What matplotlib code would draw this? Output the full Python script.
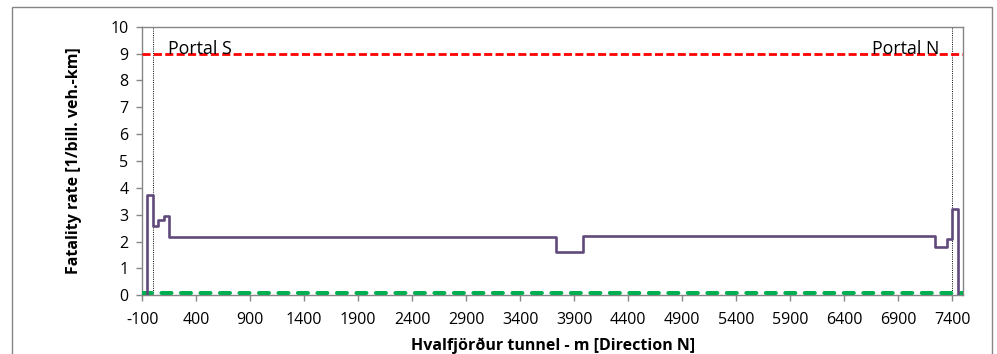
import matplotlib
matplotlib.use("Agg")
import matplotlib.pyplot as plt
from matplotlib.patches import Rectangle

plt.rcParams['font.family'] = ['Open Sans', 'DejaVu Sans']
plt.rcParams['axes.unicode_minus'] = False

# Fatality rate profile along the tunnel (step values, start of each segment)
chainage = [-57, -57, 0, 50, 100, 150, 3730, 3980, 7240, 7350, 7400, 7455]
fatality_rate = [0, 3.73, 2.57, 2.82, 2.97, 2.18, 1.62, 2.22, 1.81, 2.10, 3.20, 0]

# Reference levels
limit_x = [-100, 7500]
limit_upper = [9, 9]
limit_lower = [0.08, 0.08]

# Portals
portal_s = 0
portal_n = 7400

xticks = list(range(-100, 7401, 500))
yticks = list(range(0, 11))

fig = plt.figure(figsize=(9.97, 3.54), dpi=100)
ax = fig.add_axes([0.1427, 0.1658, 0.966 - 0.1427, 0.9246 - 0.1658])

grey = '#868686'

ax.plot(limit_x, limit_upper, color='#FF0000', lw=2.0, dashes=(2.9, 1.2), zorder=3)
ax.plot(limit_x, limit_lower, color='#00B050', lw=2.9, dashes=(2.48, 2.36),
        dash_capstyle='round', solid_capstyle='round', zorder=3)
ax.plot(chainage, fatality_rate, drawstyle='steps-post', color='#604A7B', lw=1.9, zorder=4)

ax.axvline(portal_s, color='black', lw=0.7, ls=(0, (1, 1.3)), zorder=2)
ax.axvline(portal_n, color='black', lw=0.7, ls=(0, (1, 1.3)), zorder=2)

ax.text(138, 9.0, 'Portal S', fontsize=12.8, ha='left', va='baseline')
ax.text(7276, 9.0, 'Portal N', fontsize=12.8, ha='right', va='baseline')

ax.set_xlim(-100, 7500)
ax.set_ylim(0, 10)
ax.set_xticks(xticks)
ax.set_yticks(yticks)
ax.tick_params(axis='both', direction='out', length=4, width=1, color=grey,
               labelsize=11.5)
ax.tick_params(axis='x', pad=8)
ax.tick_params(axis='y', pad=6)

for s in ax.spines.values():
    s.set_color(grey)
    s.set_linewidth(1)

ax.set_xlabel('Hvalfjörður tunnel - m [Direction N]', fontsize=11.5,
              fontweight='bold', labelpad=7)
ax.set_ylabel('Fatality rate [1/bill. veh.-km]', fontsize=11.5,
              fontweight='bold', labelpad=20)

fig.patches.append(Rectangle((12 / 997, -0.05), 980 / 997, 1 - 7 / 354 + 0.05,
                             transform=fig.transFigure, fill=False,
                             edgecolor=grey, lw=1))

fig.savefig('out.png', dpi=100)
